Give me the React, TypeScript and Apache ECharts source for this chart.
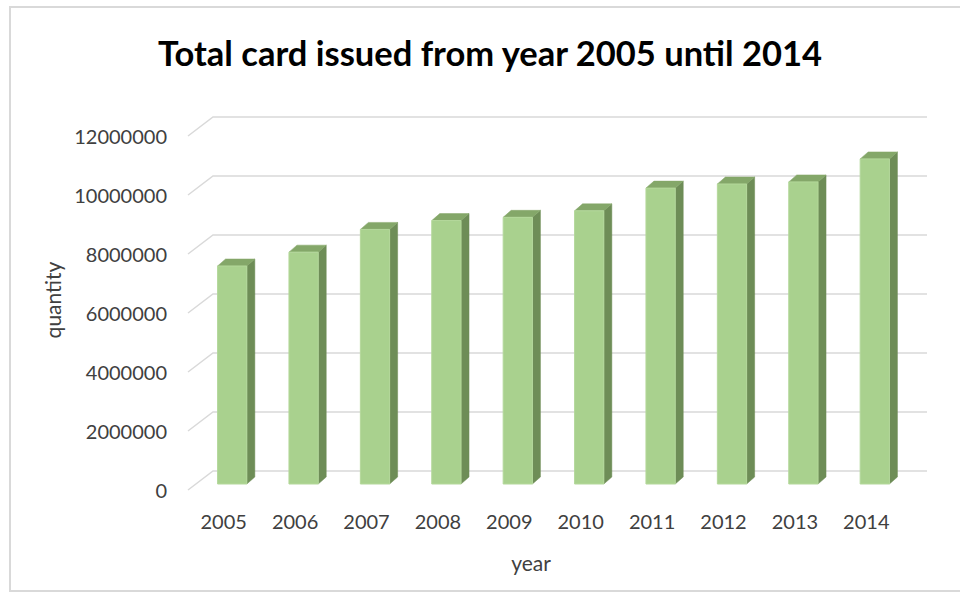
import React, { useEffect, useRef } from "react";
import * as echarts from "echarts";

const years = ["2005", "2006", "2007", "2008", "2009", "2010", "2011", "2012", "2013", "2014"];
const cardsIssued = [7390000, 7860000, 8630000, 8930000, 9040000, 9260000, 10030000, 10170000, 10240000, 11020000];
const yTicks = [0, 2000000, 4000000, 6000000, 8000000, 10000000, 12000000];

const titleText = "Total card issued from year 2005 until 2014";
const yName = "quantity";
const xName = "year";

const FONT = "Lato, 'Open Sans', sans-serif";

export default function App() {
  const ref = useRef<HTMLDivElement>(null);
  useEffect(() => {
    if (!ref.current) return;
    const chart = echarts.init(ref.current, null, { renderer: "svg" });
    const depthX = 25;
    const depthY = 19;
    const option: any = {
      animation: false,
      backgroundColor: "#ffffff",
      title: {
        text: titleText,
        left: 485,
        top: 30,
        textAlign: "center",
        textStyle: { fontFamily: FONT, fontWeight: "bold", fontSize: 34.5, color: "#000000" },
      },
      graphic: [
        {
          type: "rect",
          shape: { x: 10, y: 7, width: 960, height: 584 },
          style: { fill: "none", stroke: "#d9d9d9", lineWidth: 2 },
          silent: true,
          z: -10,
        },
      ],
      grid: { left: 188, right: 58, top: 136, bottom: 104 },
      xAxis: {
        type: "category",
        data: years,
        axisLine: { show: false },
        axisTick: { show: false },
        splitLine: { show: false },
        axisLabel: { fontFamily: FONT, fontSize: 20, color: "#404040", margin: 21 },
        name: xName,
        nameLocation: "middle",
        nameGap: 62,
        nameTextStyle: { fontFamily: FONT, fontSize: 21, color: "#404040", padding: [0, 28, 0, 0] },
      },
      yAxis: {
        type: "value",
        min: 0,
        max: 12000000,
        interval: 2000000,
        axisLine: { show: false },
        axisTick: { show: false },
        splitLine: { show: false },
        axisLabel: {
          fontFamily: FONT,
          fontSize: 20,
          color: "#404040",
          margin: 21,
          formatter: (v: number) => String(v),
        },
        name: yName,
        nameLocation: "middle",
        nameGap: 117,
        nameTextStyle: { fontFamily: FONT, fontSize: 21, color: "#404040", padding: [0, 0, 0, 26] },
      },
      series: [
        {
          type: "custom",
          silent: true,
          z: 1,
          data: yTicks.map((v) => [0, v]),
          encode: { x: 0, y: 1 },
          renderItem: (params: any, api: any) => {
            const cs = params.coordSys;
            const y = api.coord([0, api.value(1)])[1];
            return {
              type: "polyline",
              shape: {
                points: [
                  [cs.x, y],
                  [cs.x + depthX, y - depthY],
                  [cs.x + cs.width + depthX, y - depthY],
                ],
              },
              style: { stroke: "#d9d9d9", lineWidth: 1.5, fill: "none" },
            };
          },
        },
        {
          type: "custom",
          z: 5,
          data: cardsIssued.map((v, i) => [i, v]),
          encode: { x: 0, y: 1 },
          renderItem: (params: any, api: any) => {
            const idx = api.value(0);
            const val = api.value(1);
            const base = api.coord([idx, 0]);
            const top = api.coord([idx, val]);
            const band = api.size([1, 0])[0];
            const w = band * 0.41;
            const offX = 8.5;
            const offY = -6;
            const dx = 8;
            const dy = -7;
            const x0 = base[0] + offX - w / 2;
            const x1 = x0 + w;
            const yb = base[1] + offY;
            const yt = top[1] + offY;
            return {
              type: "group",
              children: [
                {
                  type: "polygon",
                  shape: { points: [[x1, yb], [x1 + dx, yb + dy], [x1 + dx, yt + dy], [x1, yt]] },
                  style: { fill: "#6e8d57", stroke: "#6e8d57", lineWidth: 0.5 },
                },
                {
                  type: "polygon",
                  shape: { points: [[x0, yt], [x1, yt], [x1 + dx, yt + dy], [x0 + dx, yt + dy]] },
                  style: { fill: "#84a769", stroke: "#84a769", lineWidth: 0.5 },
                },
                {
                  type: "rect",
                  shape: { x: x0, y: yt, width: w, height: yb - yt },
                  style: { fill: "#a9d18e", stroke: "#b4d89b", lineWidth: 1 },
                },
              ],
            };
          },
        },
      ],
    };
    chart.setOption(option);
    return () => chart.dispose();
  }, []);
  return (
    <div
      ref={ref}
      style={{ position: "fixed", left: 0, top: 0, width: 960, height: 594 }}
    />
  );
}
